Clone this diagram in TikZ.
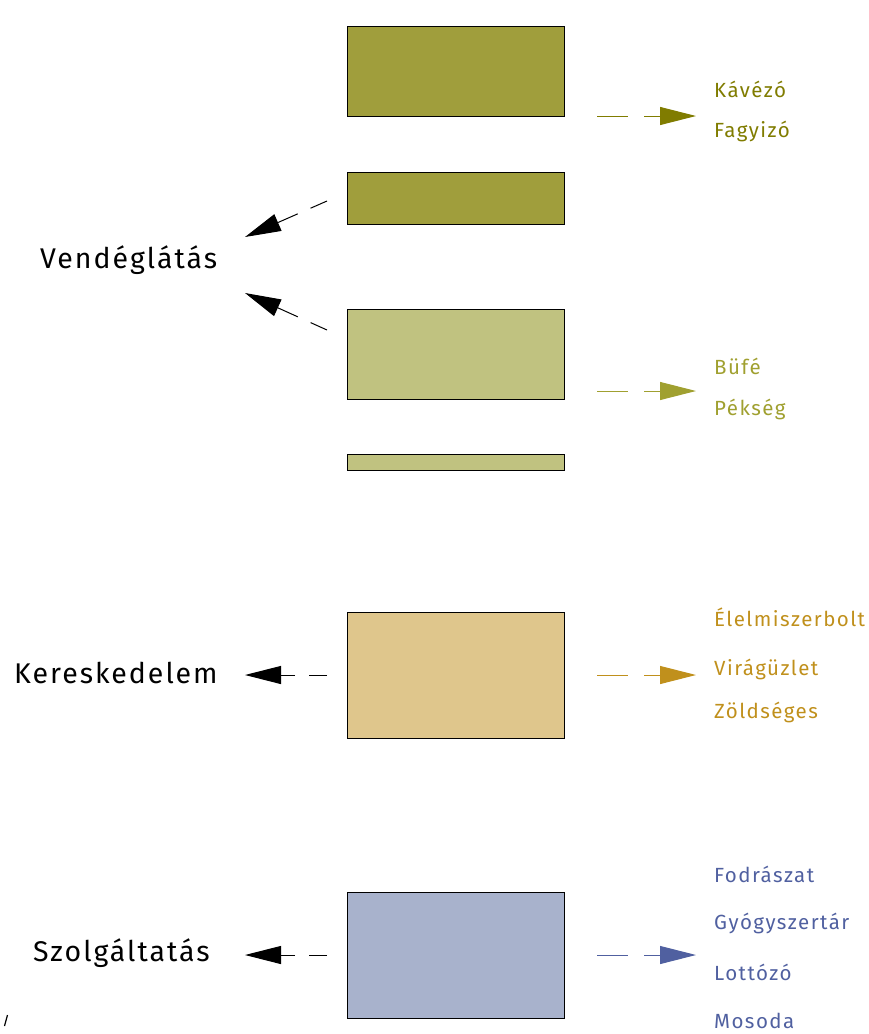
\documentclass[tikz,border=0pt]{standalone}
\usepackage{fontspec}
\setmainfont{Fira Sans}[LetterSpace=7]
\usetikzlibrary{arrows.meta}
\definecolor{boxA}{HTML}{A09E3C}
\definecolor{boxB}{HTML}{C0C280}
\definecolor{boxC}{HTML}{DFC68C}
\definecolor{boxD}{HTML}{A8B2CC}
\definecolor{txA}{HTML}{807C00}
\definecolor{txB}{HTML}{A0A030}
\definecolor{txC}{HTML}{C0901C}
\definecolor{txD}{HTML}{5060A0}
\tikzset{
  box/.style={draw=black, line width=0.8pt, inner sep=0pt, minimum width=217pt},
  bigtxt/.style={font=\fontsize{28.5}{32}\selectfont, anchor=west, inner sep=0pt},
  smalltxt/.style={font=\fontsize{20.5}{24}\selectfont, anchor=west, inner sep=0pt},
  rarrow/.style={line width=1pt, dash pattern=on 31pt off 16pt on 60pt, -{Triangle[length=36pt,width=18pt]}},
  larrow/.style={line width=1pt, dash pattern=on 18pt off 14pt on 60pt, -{Triangle[length=36pt,width=18pt]}}
}
\begin{document}
\begin{tikzpicture}[x=1pt,y=-1pt]
\useasboundingbox (0,0) rectangle (869,1034);
% boxes
\node[box, fill=boxA, minimum height=90pt] (b1) at (455.5,71) {};
\node[box, fill=boxA, minimum height=52pt] (b2) at (455.5,198) {};
\node[box, fill=boxB, minimum height=90pt] (b3) at (455.5,354) {};
\node[box, fill=boxB, minimum height=16pt] (b4) at (455.5,462.5) {};
\node[box, fill=boxC, minimum height=126pt] (b5) at (455.5,675) {};
\node[box, fill=boxD, minimum height=126pt] (b6) at (455.5,955) {};
% left labels
\node[bigtxt] (vend) at (40,260) {Vendéglátás};
\node[bigtxt] (ker) at (14,673) {Kereskedelem};
\node[bigtxt] (szol) at (33,953) {Szolgáltatás};
% left arrow coordinates
\coordinate (l1s) at (327,201);
\coordinate (l1e) at (245,237);
\coordinate (l2s) at (327,330);
\coordinate (l2e) at (245,293);
\coordinate (l3s) at (327,675);
\coordinate (l3e) at (245,675);
\coordinate (l4s) at (327,955);
\coordinate (l4e) at (245,955);
\draw[larrow, black] (l1s) -- (l1e);
\draw[larrow, black] (l2s) -- (l2e);
\draw[larrow, black] (l3s) -- (l3e);
\draw[larrow, black] (l4s) -- (l4e);
% right arrows
\coordinate (r1s) at (597,116);
\coordinate (r1e) at (696,116);
\coordinate (r2s) at (597,391);
\coordinate (r2e) at (696,391);
\coordinate (r3s) at (597,675);
\coordinate (r3e) at (696,675);
\coordinate (r4s) at (597,955);
\coordinate (r4e) at (696,955);
\draw[rarrow, color=txA] (r1s) -- (r1e);
\draw[rarrow, color=txB] (r2s) -- (r2e);
\draw[rarrow, color=txC] (r3s) -- (r3e);
\draw[rarrow, color=txD] (r4s) -- (r4e);
% right labels
\node[smalltxt, text=txA] (t1) at (714,89) {Kávézó};
\node[smalltxt, text=txA] (t2) at (714,131) {Fagyizó};
\node[smalltxt, text=txB] (t3) at (714,366) {Büfé};
\node[smalltxt, text=txB] (t4) at (714,409) {Pékség};
\node[smalltxt, text=txC] (t5) at (714,617) {Élelmiszerbolt};
\node[smalltxt, text=txC] (t6) at (714,669) {Virágüzlet};
\node[smalltxt, text=txC] (t7) at (714,712) {Zöldséges};
\node[smalltxt, text=txD] (t8) at (714,874) {Fodrászat};
\node[smalltxt, text=txD] (t9) at (714,923) {Gyógyszertár};
\node[smalltxt, text=txD] (t10) at (714,972) {Lottózó};
\node[smalltxt, text=txD] (t11) at (714,1021) {Mosoda};
% stray mark
\draw[line width=1.2pt] (7.5,1015) -- (4.5,1026);
\end{tikzpicture}
\end{document}
